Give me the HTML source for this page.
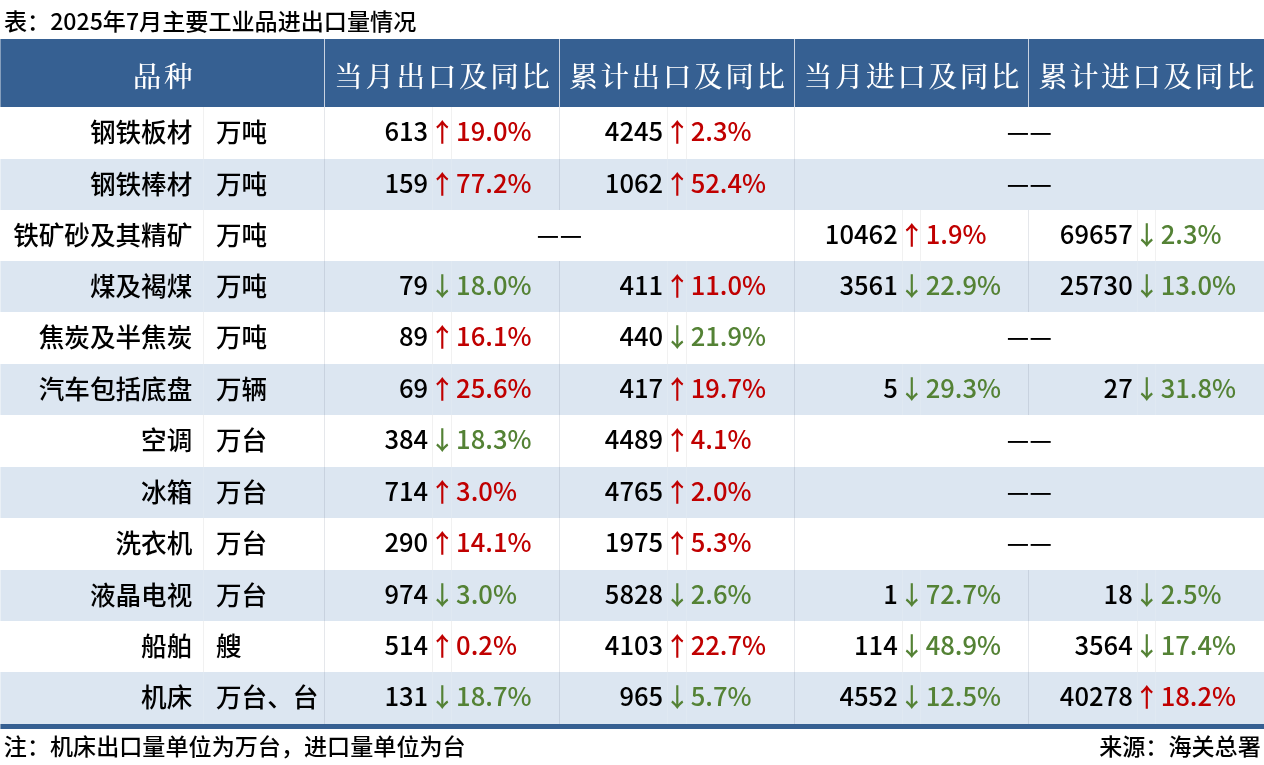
<!DOCTYPE html><html lang="zh-CN"><head><meta charset="utf-8"><title>2025年7月主要工业品进出口量情况</title><style>html,body{margin:0;padding:0;background:#fff;}
#pg{font-weight:500;position:relative;width:1264px;height:765px;overflow:hidden;background:#fff;font-family:"Noto Sans CJK SC","Liberation Sans",sans-serif;color:#000;}
#pg div,#pg span,#pg i{position:absolute;white-space:nowrap;}
.ttl{left:4px;top:4px;font-size:23.1px;line-height:32px;}
.hd{left:0;top:39px;width:1264px;height:68px;background:#366092;}
.th{transform:translate(0.6px,-0.5px);top:44px;height:68px;line-height:68px;text-align:center;color:#fff;font-family:"Liberation Serif","Noto Serif CJK SC",serif;font-size:28.6px;font-weight:500;letter-spacing:2.6px;text-indent:2.6px;}
.vl.h{top:39px;width:1px;height:68px;background:#c9d3e2;}
.row{left:0;width:1264px;font-size:25.6px;}
.row.alt{background:#dce6f1;}
.row span{top:-2.7px;height:51px;line-height:51px;}
.nm{left:0;width:192.3px;text-align:right;margin-top:0.6px;}
.un{left:216px;margin-top:0.6px;}
.v{text-align:right;}
.ar{text-align:center;margin-top:0.8px;}
.pc{text-align:left;}
.ds{text-align:center;}
.ds b{font-weight:inherit;display:inline-block;margin:0 0.26px;font-size:24.9px;}
.up{color:#c00000;}
.dn{color:#548235;}
.bb{left:0;top:724px;width:1264px;height:5px;background:#366092;}
.ft{top:729.2px;font-size:23.1px;line-height:32px;}
.ft.l{left:3.8px;}
.row i{top:0;width:1px;height:100%;}
.row i.ml{background:rgba(100,110,135,0.17);}
.row i.sl{background:rgba(0,0,0,0.055);}
.row.alt i.sl{background:rgba(255,255,255,0.12);}
.ft.r{right:3.2px;}
.le{left:0;top:39px;width:1px;height:690px;background:rgba(255,255,255,0.4);}
</style></head><body><div id="pg">
<div class="ttl">表：2025年7月主要工业品进出口量情况</div>
<div class="hd"></div>
<div class="th" style="left:0px;width:324px">品种</div>
<div class="th" style="left:324px;width:235px">当月出口及同比</div>
<div class="th" style="left:559px;width:235px">累计出口及同比</div>
<div class="th" style="left:794px;width:234px">当月进口及同比</div>
<div class="th" style="left:1028px;width:236px">累计进口及同比</div>
<div class="vl h" style="left:324px"></div>
<div class="vl h" style="left:559px"></div>
<div class="vl h" style="left:794px"></div>
<div class="vl h" style="left:1028px"></div>
<div class="row" style="top:107px;height:52px">
<span class="nm">钢铁板材</span><span class="un">万吨</span>
<i class="sl" style="left:203.0px"></i>
<i class="ml" style="left:324.0px"></i>
<i class="ml" style="left:559.0px"></i>
<i class="ml" style="left:794.0px"></i>
<i class="sl" style="left:432.0px"></i>
<i class="sl" style="left:451.0px"></i>
<i class="sl" style="left:667.0px"></i>
<i class="sl" style="left:686.0px"></i>
<span class="v" style="left:324px;width:104.2px">613</span>
<span class="ar up" style="left:429.4px;width:19.0px">↑</span>
<span class="pc up" style="left:456.1px">19.0%</span>
<span class="v" style="left:559px;width:104.2px">4245</span>
<span class="ar up" style="left:664.4px;width:18.600000000000023px">↑</span>
<span class="pc up" style="left:690.7px">2.3%</span>
<span class="ds" style="left:969.3px;width:120px"><b>—</b><b>—</b></span>
</div>
<div class="row alt" style="top:159px;height:51px">
<span class="nm">钢铁棒材</span><span class="un">万吨</span>
<i class="sl" style="left:203.0px"></i>
<i class="ml" style="left:324.0px"></i>
<i class="ml" style="left:559.0px"></i>
<i class="ml" style="left:794.0px"></i>
<i class="sl" style="left:432.0px"></i>
<i class="sl" style="left:451.0px"></i>
<i class="sl" style="left:667.0px"></i>
<i class="sl" style="left:686.0px"></i>
<span class="v" style="left:324px;width:104.2px">159</span>
<span class="ar up" style="left:429.4px;width:19.0px">↑</span>
<span class="pc up" style="left:456.1px">77.2%</span>
<span class="v" style="left:559px;width:104.2px">1062</span>
<span class="ar up" style="left:664.4px;width:18.600000000000023px">↑</span>
<span class="pc up" style="left:690.7px">52.4%</span>
<span class="ds" style="left:969.3px;width:120px"><b>—</b><b>—</b></span>
</div>
<div class="row" style="top:210px;height:51px">
<span class="nm">铁矿砂及其精矿</span><span class="un">万吨</span>
<i class="sl" style="left:203.0px"></i>
<i class="ml" style="left:324.0px"></i>
<i class="ml" style="left:794.0px"></i>
<i class="ml" style="left:1028.0px"></i>
<i class="sl" style="left:902.0px"></i>
<i class="sl" style="left:920.0px"></i>
<i class="sl" style="left:1137.0px"></i>
<i class="sl" style="left:1155.0px"></i>
<span class="ds" style="left:499.5px;width:120px"><b>—</b><b>—</b></span>
<span class="v" style="left:794px;width:103.8px">10462</span>
<span class="ar up" style="left:899px;width:19px">↑</span>
<span class="pc up" style="left:925.7px">1.9%</span>
<span class="v" style="left:1028px;width:104.8px">69657</span>
<span class="ar dn" style="left:1134px;width:19px">↓</span>
<span class="pc dn" style="left:1160.7px">2.3%</span>
</div>
<div class="row alt" style="top:261px;height:51px">
<span class="nm">煤及褐煤</span><span class="un">万吨</span>
<i class="sl" style="left:203.0px"></i>
<i class="ml" style="left:324.0px"></i>
<i class="ml" style="left:559.0px"></i>
<i class="ml" style="left:794.0px"></i>
<i class="ml" style="left:1028.0px"></i>
<i class="sl" style="left:432.0px"></i>
<i class="sl" style="left:451.0px"></i>
<i class="sl" style="left:667.0px"></i>
<i class="sl" style="left:686.0px"></i>
<i class="sl" style="left:902.0px"></i>
<i class="sl" style="left:920.0px"></i>
<i class="sl" style="left:1137.0px"></i>
<i class="sl" style="left:1155.0px"></i>
<span class="v" style="left:324px;width:104.2px">79</span>
<span class="ar dn" style="left:429.4px;width:19.0px">↓</span>
<span class="pc dn" style="left:456.1px">18.0%</span>
<span class="v" style="left:559px;width:104.2px">411</span>
<span class="ar up" style="left:664.4px;width:18.600000000000023px">↑</span>
<span class="pc up" style="left:690.7px">11.0%</span>
<span class="v" style="left:794px;width:103.8px">3561</span>
<span class="ar dn" style="left:899px;width:19px">↓</span>
<span class="pc dn" style="left:925.7px">22.9%</span>
<span class="v" style="left:1028px;width:104.8px">25730</span>
<span class="ar dn" style="left:1134px;width:19px">↓</span>
<span class="pc dn" style="left:1160.7px">13.0%</span>
</div>
<div class="row" style="top:312px;height:52px">
<span class="nm">焦炭及半焦炭</span><span class="un">万吨</span>
<i class="sl" style="left:203.0px"></i>
<i class="ml" style="left:324.0px"></i>
<i class="ml" style="left:559.0px"></i>
<i class="ml" style="left:794.0px"></i>
<i class="sl" style="left:432.0px"></i>
<i class="sl" style="left:451.0px"></i>
<i class="sl" style="left:667.0px"></i>
<i class="sl" style="left:686.0px"></i>
<span class="v" style="left:324px;width:104.2px">89</span>
<span class="ar up" style="left:429.4px;width:19.0px">↑</span>
<span class="pc up" style="left:456.1px">16.1%</span>
<span class="v" style="left:559px;width:104.2px">440</span>
<span class="ar dn" style="left:664.4px;width:18.600000000000023px">↓</span>
<span class="pc dn" style="left:690.7px">21.9%</span>
<span class="ds" style="left:969.3px;width:120px"><b>—</b><b>—</b></span>
</div>
<div class="row alt" style="top:364px;height:51px">
<span class="nm">汽车包括底盘</span><span class="un">万辆</span>
<i class="sl" style="left:203.0px"></i>
<i class="ml" style="left:324.0px"></i>
<i class="ml" style="left:559.0px"></i>
<i class="ml" style="left:794.0px"></i>
<i class="ml" style="left:1028.0px"></i>
<i class="sl" style="left:432.0px"></i>
<i class="sl" style="left:451.0px"></i>
<i class="sl" style="left:667.0px"></i>
<i class="sl" style="left:686.0px"></i>
<i class="sl" style="left:902.0px"></i>
<i class="sl" style="left:920.0px"></i>
<i class="sl" style="left:1137.0px"></i>
<i class="sl" style="left:1155.0px"></i>
<span class="v" style="left:324px;width:104.2px">69</span>
<span class="ar up" style="left:429.4px;width:19.0px">↑</span>
<span class="pc up" style="left:456.1px">25.6%</span>
<span class="v" style="left:559px;width:104.2px">417</span>
<span class="ar up" style="left:664.4px;width:18.600000000000023px">↑</span>
<span class="pc up" style="left:690.7px">19.7%</span>
<span class="v" style="left:794px;width:103.8px">5</span>
<span class="ar dn" style="left:899px;width:19px">↓</span>
<span class="pc dn" style="left:925.7px">29.3%</span>
<span class="v" style="left:1028px;width:104.8px">27</span>
<span class="ar dn" style="left:1134px;width:19px">↓</span>
<span class="pc dn" style="left:1160.7px">31.8%</span>
</div>
<div class="row" style="top:415px;height:52px">
<span class="nm">空调</span><span class="un">万台</span>
<i class="sl" style="left:203.0px"></i>
<i class="ml" style="left:324.0px"></i>
<i class="ml" style="left:559.0px"></i>
<i class="ml" style="left:794.0px"></i>
<i class="sl" style="left:432.0px"></i>
<i class="sl" style="left:451.0px"></i>
<i class="sl" style="left:667.0px"></i>
<i class="sl" style="left:686.0px"></i>
<span class="v" style="left:324px;width:104.2px">384</span>
<span class="ar dn" style="left:429.4px;width:19.0px">↓</span>
<span class="pc dn" style="left:456.1px">18.3%</span>
<span class="v" style="left:559px;width:104.2px">4489</span>
<span class="ar up" style="left:664.4px;width:18.600000000000023px">↑</span>
<span class="pc up" style="left:690.7px">4.1%</span>
<span class="ds" style="left:969.3px;width:120px"><b>—</b><b>—</b></span>
</div>
<div class="row alt" style="top:467px;height:51px">
<span class="nm">冰箱</span><span class="un">万台</span>
<i class="sl" style="left:203.0px"></i>
<i class="ml" style="left:324.0px"></i>
<i class="ml" style="left:559.0px"></i>
<i class="ml" style="left:794.0px"></i>
<i class="sl" style="left:432.0px"></i>
<i class="sl" style="left:451.0px"></i>
<i class="sl" style="left:667.0px"></i>
<i class="sl" style="left:686.0px"></i>
<span class="v" style="left:324px;width:104.2px">714</span>
<span class="ar up" style="left:429.4px;width:19.0px">↑</span>
<span class="pc up" style="left:456.1px">3.0%</span>
<span class="v" style="left:559px;width:104.2px">4765</span>
<span class="ar up" style="left:664.4px;width:18.600000000000023px">↑</span>
<span class="pc up" style="left:690.7px">2.0%</span>
<span class="ds" style="left:969.3px;width:120px"><b>—</b><b>—</b></span>
</div>
<div class="row" style="top:518px;height:52px">
<span class="nm">洗衣机</span><span class="un">万台</span>
<i class="sl" style="left:203.0px"></i>
<i class="ml" style="left:324.0px"></i>
<i class="ml" style="left:559.0px"></i>
<i class="ml" style="left:794.0px"></i>
<i class="sl" style="left:432.0px"></i>
<i class="sl" style="left:451.0px"></i>
<i class="sl" style="left:667.0px"></i>
<i class="sl" style="left:686.0px"></i>
<span class="v" style="left:324px;width:104.2px">290</span>
<span class="ar up" style="left:429.4px;width:19.0px">↑</span>
<span class="pc up" style="left:456.1px">14.1%</span>
<span class="v" style="left:559px;width:104.2px">1975</span>
<span class="ar up" style="left:664.4px;width:18.600000000000023px">↑</span>
<span class="pc up" style="left:690.7px">5.3%</span>
<span class="ds" style="left:969.3px;width:120px"><b>—</b><b>—</b></span>
</div>
<div class="row alt" style="top:570px;height:51px">
<span class="nm">液晶电视</span><span class="un">万台</span>
<i class="sl" style="left:203.0px"></i>
<i class="ml" style="left:324.0px"></i>
<i class="ml" style="left:559.0px"></i>
<i class="ml" style="left:794.0px"></i>
<i class="ml" style="left:1028.0px"></i>
<i class="sl" style="left:432.0px"></i>
<i class="sl" style="left:451.0px"></i>
<i class="sl" style="left:667.0px"></i>
<i class="sl" style="left:686.0px"></i>
<i class="sl" style="left:902.0px"></i>
<i class="sl" style="left:920.0px"></i>
<i class="sl" style="left:1137.0px"></i>
<i class="sl" style="left:1155.0px"></i>
<span class="v" style="left:324px;width:104.2px">974</span>
<span class="ar dn" style="left:429.4px;width:19.0px">↓</span>
<span class="pc dn" style="left:456.1px">3.0%</span>
<span class="v" style="left:559px;width:104.2px">5828</span>
<span class="ar dn" style="left:664.4px;width:18.600000000000023px">↓</span>
<span class="pc dn" style="left:690.7px">2.6%</span>
<span class="v" style="left:794px;width:103.8px">1</span>
<span class="ar dn" style="left:899px;width:19px">↓</span>
<span class="pc dn" style="left:925.7px">72.7%</span>
<span class="v" style="left:1028px;width:104.8px">18</span>
<span class="ar dn" style="left:1134px;width:19px">↓</span>
<span class="pc dn" style="left:1160.7px">2.5%</span>
</div>
<div class="row" style="top:621px;height:51px">
<span class="nm">船舶</span><span class="un">艘</span>
<i class="sl" style="left:203.0px"></i>
<i class="ml" style="left:324.0px"></i>
<i class="ml" style="left:559.0px"></i>
<i class="ml" style="left:794.0px"></i>
<i class="ml" style="left:1028.0px"></i>
<i class="sl" style="left:432.0px"></i>
<i class="sl" style="left:451.0px"></i>
<i class="sl" style="left:667.0px"></i>
<i class="sl" style="left:686.0px"></i>
<i class="sl" style="left:902.0px"></i>
<i class="sl" style="left:920.0px"></i>
<i class="sl" style="left:1137.0px"></i>
<i class="sl" style="left:1155.0px"></i>
<span class="v" style="left:324px;width:104.2px">514</span>
<span class="ar up" style="left:429.4px;width:19.0px">↑</span>
<span class="pc up" style="left:456.1px">0.2%</span>
<span class="v" style="left:559px;width:104.2px">4103</span>
<span class="ar up" style="left:664.4px;width:18.600000000000023px">↑</span>
<span class="pc up" style="left:690.7px">22.7%</span>
<span class="v" style="left:794px;width:103.8px">114</span>
<span class="ar dn" style="left:899px;width:19px">↓</span>
<span class="pc dn" style="left:925.7px">48.9%</span>
<span class="v" style="left:1028px;width:104.8px">3564</span>
<span class="ar dn" style="left:1134px;width:19px">↓</span>
<span class="pc dn" style="left:1160.7px">17.4%</span>
</div>
<div class="row alt" style="top:672px;height:52px">
<span class="nm">机床</span><span class="un">万台、台</span>
<i class="sl" style="left:203.0px"></i>
<i class="ml" style="left:324.0px"></i>
<i class="ml" style="left:559.0px"></i>
<i class="ml" style="left:794.0px"></i>
<i class="ml" style="left:1028.0px"></i>
<i class="sl" style="left:432.0px"></i>
<i class="sl" style="left:451.0px"></i>
<i class="sl" style="left:667.0px"></i>
<i class="sl" style="left:686.0px"></i>
<i class="sl" style="left:902.0px"></i>
<i class="sl" style="left:920.0px"></i>
<i class="sl" style="left:1137.0px"></i>
<i class="sl" style="left:1155.0px"></i>
<span class="v" style="left:324px;width:104.2px">131</span>
<span class="ar dn" style="left:429.4px;width:19.0px">↓</span>
<span class="pc dn" style="left:456.1px">18.7%</span>
<span class="v" style="left:559px;width:104.2px">965</span>
<span class="ar dn" style="left:664.4px;width:18.600000000000023px">↓</span>
<span class="pc dn" style="left:690.7px">5.7%</span>
<span class="v" style="left:794px;width:103.8px">4552</span>
<span class="ar dn" style="left:899px;width:19px">↓</span>
<span class="pc dn" style="left:925.7px">12.5%</span>
<span class="v" style="left:1028px;width:104.8px">40278</span>
<span class="ar up" style="left:1134px;width:19px">↑</span>
<span class="pc up" style="left:1160.7px">18.2%</span>
</div>
<div class="bb"></div>
<div class="le"></div>
<div class="ft l">注：机床出口量单位为万台，进口量单位为台</div>
<div class="ft r">来源：海关总署</div>
</div></body></html>
